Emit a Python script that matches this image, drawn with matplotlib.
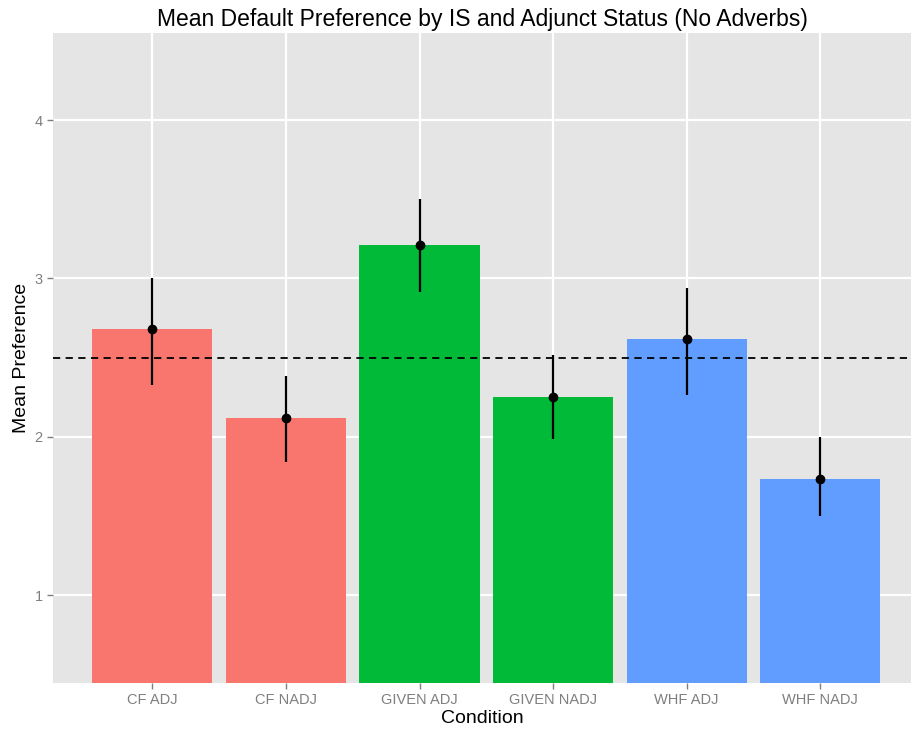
import numpy as np
import matplotlib
matplotlib.use("Agg")
import matplotlib.pyplot as plt

plt.rcParams['font.family'] = ['Liberation Sans', 'DejaVu Sans']

conditions = ["CF ADJ", "CF NADJ", "GIVEN ADJ", "GIVEN NADJ", "WHF ADJ", "WHF NADJ"]
means = [2.678, 2.117, 3.208, 2.251, 2.619, 1.735]
upper = [3.000, 2.383, 3.501, 2.516, 2.939, 2.000]
lower = [2.326, 1.838, 2.912, 1.985, 2.265, 1.500]
colors = ["#F8766D", "#F8766D", "#00BA38", "#00BA38", "#619CFF", "#619CFF"]
yticks = [1, 2, 3, 4]
ref_line = 2.5

fig = plt.figure(figsize=(9.12, 7.3), dpi=100)
ax = fig.add_axes([0.0581, 0.0648, 1.0 - 0.0581, 0.9548 - 0.0648])
ax.set_facecolor("#E5E5E5")

x = np.arange(1, len(conditions) + 1)

# grid first so bars sit on top
for v in yticks:
    ax.axhline(v, color="white", lw=1.6, zorder=0)
for xi in x:
    ax.axvline(xi, color="white", lw=1.6, zorder=0)

ax.bar(x, means, width=0.9, color=colors, zorder=1)
ax.axhline(ref_line, color="black", lw=1.3, ls=(0, (4, 3)), zorder=2)
ax.vlines(x, lower, upper, color="black", lw=1.6, zorder=3)
ax.plot(x, means, "o", color="black", ms=6, zorder=4)

ax.set_xlim(0.256, 6.687)
ax.set_ylim(0.447, 4.55)
ax.set_xticks(x)
ax.set_xticklabels(conditions)
ax.set_yticks(yticks)
ax.tick_params(axis="both", colors="#7F7F7F", labelcolor="#7F7F7F",
               labelsize=10.5, length=4, width=1)
for s in ax.spines.values():
    s.set_visible(False)

ax.set_xlabel("Condition", fontsize=14, labelpad=2)
ax.set_ylabel("Mean Preference", fontsize=14, labelpad=3)
ax.set_title("Mean Default Preference by IS and Adjunct Status (No Adverbs)",
             fontsize=16.5, pad=5)

fig.savefig("out.png", dpi=100)
